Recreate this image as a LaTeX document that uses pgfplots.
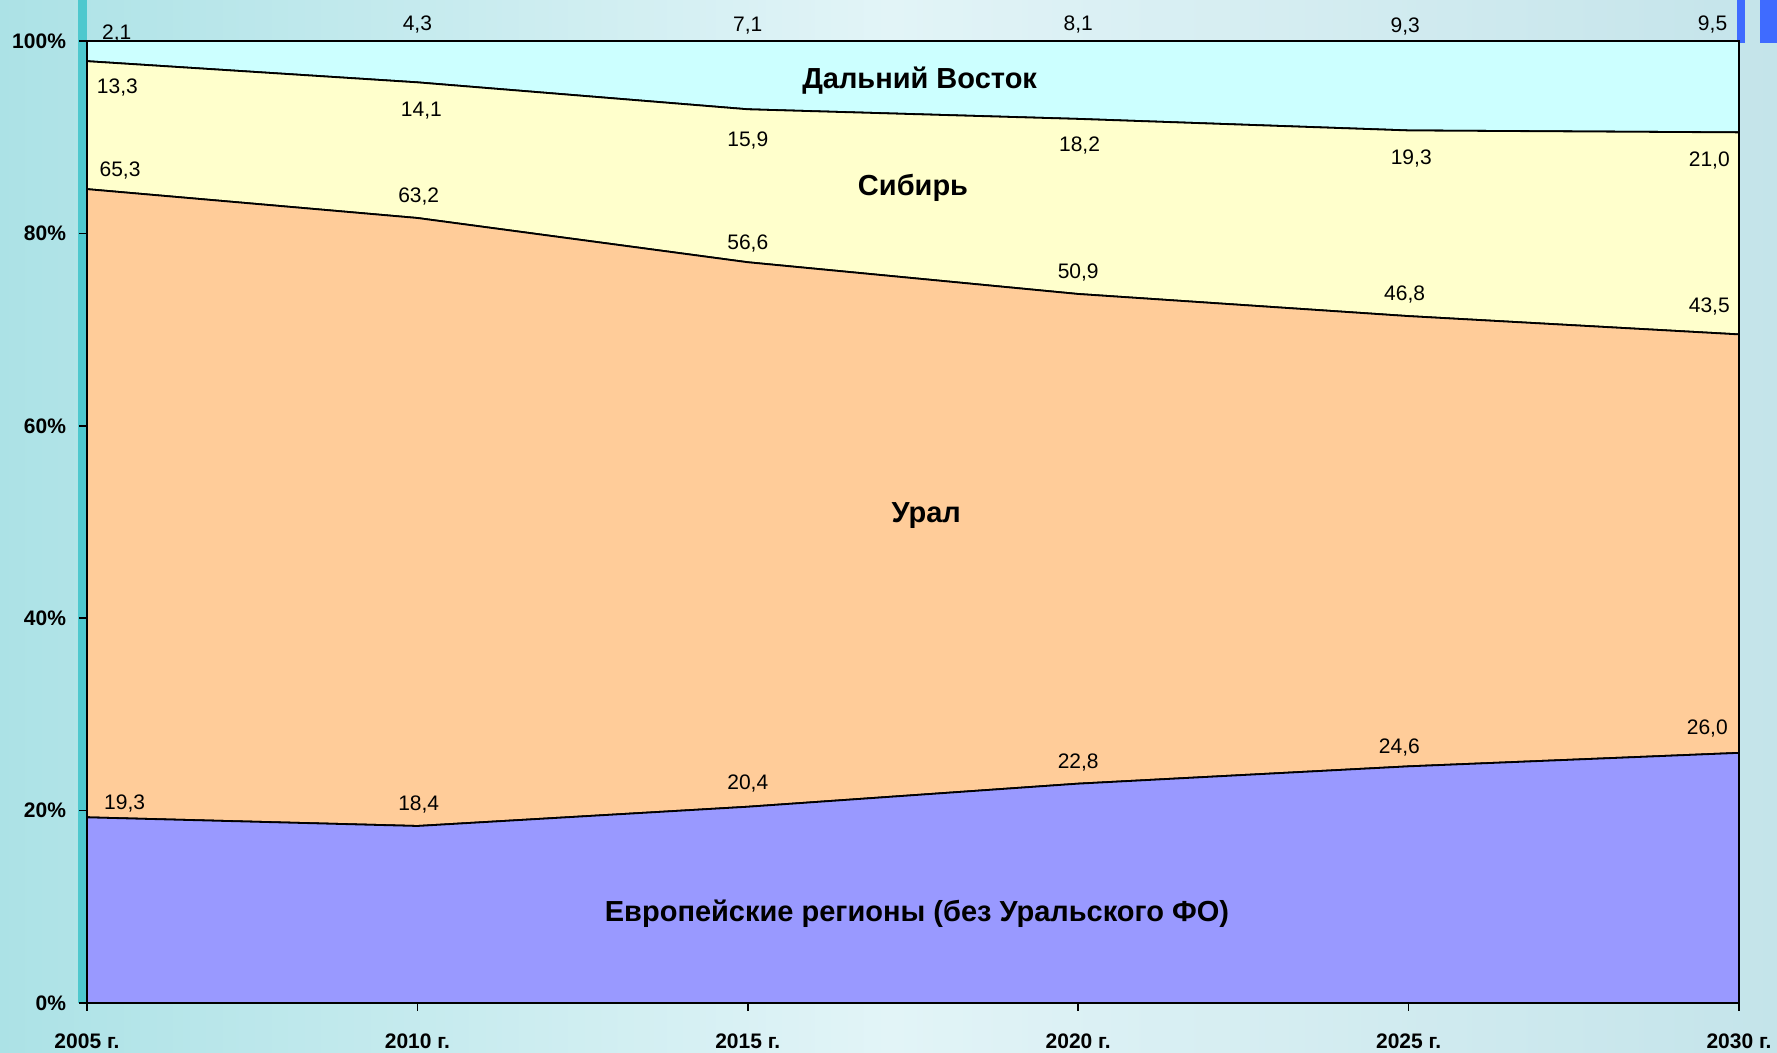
\documentclass[border=0pt]{standalone}
\usepackage{fontspec}
\setmainfont{Liberation Sans}
\usepackage{pgfplots}
\pgfplotsset{compat=1.18}

\definecolor{eurcol}{RGB}{153,153,255}
\definecolor{uralcol}{RGB}{255,204,153}
\definecolor{sibcol}{RGB}{255,255,204}
\definecolor{dvcol}{RGB}{204,255,255}
\definecolor{bgleft}{RGB}{172,226,230}
\definecolor{bgmid}{RGB}{226,244,247}
\definecolor{bgright}{RGB}{196,228,234}
\definecolor{stripcol}{RGB}{78,200,206}
\definecolor{barblue}{RGB}{63,107,255}

\pgfplotsset{
  base/.style={
    at={(43.5pt,25pt)}, anchor=south west,
    width=826pt, height=481pt, scale only axis,
    xmin=2005, xmax=2030, ymin=0, ymax=100,
    clip=false,
  },
}

\begin{document}
\begin{tikzpicture}
\useasboundingbox (0,0) rectangle (888.5pt,526.5pt);
% slide background
\shade[left color=bgleft, right color=bgright, middle color=bgmid]
  (0,0) rectangle (888.5pt,526.5pt);
\fill[stripcol] (39pt,25pt) rectangle (43.5pt,526.5pt);
\fill[barblue] (868.5pt,505pt) rectangle (872.5pt,526.5pt);
\fill[barblue] (880pt,505pt) rectangle (888.5pt,526.5pt);

\begin{axis}[
  base,
  stack plots=y,
  axis on top,
  axis line style={line width=1.2pt},
  tick align=outside,
  xtick pos=bottom, ytick pos=left,
  major tick length=4pt,
  tick style={line width=0.8pt, black},
  xtick={2005,2010,2015,2020,2025,2030},
  xticklabels={2005 г.,2010 г.,2015 г.,2020 г.,2025 г.,2030 г.},
  ytick={0,20,40,60,80,100},
  yticklabels={0\%,20\%,40\%,60\%,80\%,100\%},
  ticklabel style={font=\fontsize{10.5}{12}\selectfont\bfseries},
  yticklabel style={xshift=-3pt},
  xticklabel style={yshift=-8pt},
]
% Европейские регионы (без Уральского ФО)
\addplot[fill=eurcol, draw=black, line width=0.9pt] coordinates {
  (2005,19.3) (2010,18.4) (2015,20.4) (2020,22.8) (2025,24.6) (2030,26.0)
} \closedcycle;
% Урал
\addplot[fill=uralcol, draw=black, line width=0.9pt] coordinates {
  (2005,65.3) (2010,63.2) (2015,56.6) (2020,50.9) (2025,46.8) (2030,43.5)
} \closedcycle;
% Сибирь
\addplot[fill=sibcol, draw=black, line width=0.9pt] coordinates {
  (2005,13.3) (2010,14.1) (2015,15.9) (2020,18.2) (2025,19.3) (2030,21.0)
} \closedcycle;
% Дальний Восток
\addplot[fill=dvcol, draw=black, line width=0.9pt] coordinates {
  (2005,2.1) (2010,4.3) (2015,7.1) (2020,8.1) (2025,9.3) (2030,9.5)
} \closedcycle;
\end{axis}

% value labels and region names
\begin{axis}[base, hide axis]
\addplot[
  only marks, mark=none,
  nodes near coords,
  point meta=explicit symbolic,
  every node near coord/.style={anchor=center, inner sep=0pt, yshift=-2pt,
    font=\fontsize{10.5}{12}\selectfont},
] table[meta=label] {
x        y      label
2005.45  101.2  2,1
2010.00  102.1  4,3
2015.00  102.0  7,1
2020.00  102.1  8,1
2024.95  101.9  9,3
2029.60  102.1  9,5
2005.46  95.6   13,3
2010.06  93.2   14,1
2015.00  90.1   15,9
2020.02  89.6   18,2
2025.04  88.2   19,3
2029.55  88.0   21,0
2005.50  86.9   65,3
2010.02  84.2   63,2
2015.00  79.4   56,6
2020.00  76.4   50,9
2024.94  74.1   46,8
2029.55  72.8   43,5
2005.57  21.1   19,3
2010.02  21.0   18,4
2015.00  23.2   20,4
2020.00  25.4   22,8
2024.86  27.0   24,6
2029.52  28.9   26,0
};
\addplot[
  only marks, mark=none,
  nodes near coords,
  point meta=explicit symbolic,
  every node near coord/.style={anchor=center, inner sep=0pt, yshift=-2pt,
    font=\fontsize{14.5}{16}\selectfont\bfseries},
] table[meta=label] {
x        y      label
2017.60  96.3   {Дальний Восток}
2017.50  85.1   {Сибирь}
2017.70  51.1   {Урал}
2017.56  9.7    {Европейские регионы (без Уральского ФО)}
};
\end{axis}
\end{tikzpicture}
\end{document}
